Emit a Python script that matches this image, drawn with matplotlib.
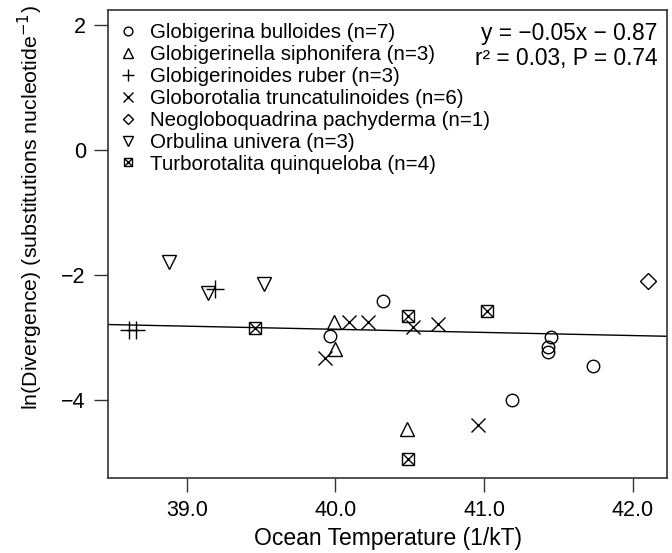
import matplotlib
matplotlib.use("Agg")
import matplotlib.pyplot as plt
from matplotlib.legend_handler import HandlerTuple
import numpy as np

plt.rcParams['font.family'] = ['Liberation Sans', 'DejaVu Sans']
plt.rcParams['axes.unicode_minus'] = True

# species data: (1/kT, ln divergence)
bulloides_x = [40.32, 39.96, 41.45, 41.43, 41.43, 41.73, 41.19]
bulloides_y = [-2.41, -2.98, -2.99, -3.15, -3.24, -3.45, -4.00]
siphonifera_x = [39.99, 40.00, 40.48]
siphonifera_y = [-2.75, -3.19, -4.47]
ruber_x = [38.61, 38.66, 39.19]
ruber_y = [-2.88, -2.88, -2.23]
truncat_x = [40.09, 40.22, 39.93, 40.52, 40.69, 40.96]
truncat_y = [-2.75, -2.75, -3.33, -2.84, -2.79, -4.40]
pachyderma_x = [42.10]
pachyderma_y = [-2.10]
univera_x = [38.88, 39.14, 39.52]
univera_y = [-1.79, -2.29, -2.15]
quinq_x = [39.46, 40.49, 41.02, 40.49]
quinq_y = [-2.85, -2.66, -2.57, -4.95]

slope, intercept = -0.05, -0.87
xticks = [39.0, 40.0, 41.0, 42.0]
yticks = [2, 0, -2, -4]

fig = plt.figure(figsize=(6.72, 5.53), dpi=100)
ax = fig.add_axes([0.1607, 0.1356, 0.8319, 0.8463])

ms = 9
kw = dict(linestyle='none', color='black', markerfacecolor='none', markeredgewidth=1.0)
h1, = ax.plot(bulloides_x, bulloides_y, marker='o', markersize=ms, **kw)
h2, = ax.plot(siphonifera_x, siphonifera_y, marker='^', markersize=ms + 1.5, **kw)
h3, = ax.plot(ruber_x, ruber_y, marker='+', markersize=ms + 4, **kw)
h4, = ax.plot(truncat_x, truncat_y, marker='x', markersize=ms + 1, **kw)
h5, = ax.plot(pachyderma_x, pachyderma_y, marker='D', markersize=ms - 1, **kw)
h6, = ax.plot(univera_x, univera_y, marker='v', markersize=ms + 1.5, **kw)
h7a, = ax.plot(quinq_x, quinq_y, marker='s', markersize=ms - 1, **kw)
h7b, = ax.plot(quinq_x, quinq_y, marker='x', markersize=ms - 1, **kw)

xl = np.array([38.47, 42.23])
ax.plot(xl, slope * xl + intercept, color='black', linewidth=1.0)

ax.set_xlim(38.47, 42.23)
ax.set_ylim(-5.25, 2.24)
ax.set_xticks(xticks)
ax.set_xticklabels(['%.1f' % t for t in xticks])
ax.set_yticks(yticks)
ax.tick_params(labelsize=15.5, length=10, width=1.0, color='#333333', pad=6)
for s in ax.spines.values():
    s.set_linewidth(1.2)
    s.set_color('#333333')

ax.set_xlabel('Ocean Temperature (1/kT)', fontsize=16.5, labelpad=4)
ax.set_ylabel('ln(Divergence) (substitutions nucleotide$^{-1}$)', fontsize=15.4)
ax.yaxis.set_label_coords(-0.113, 0.577)

labels = ['Globigerina bulloides (n=7)',
          'Globigerinella siphonifera (n=3)',
          'Globigerinoides ruber (n=3)',
          'Globorotalia truncatulinoides (n=6)',
          'Neogloboquadrina pachyderma (n=1)',
          'Orbulina univera (n=3)',
          'Turborotalita quinqueloba (n=4)']
leg = ax.legend([h1, h2, h3, h4, h5, h6, (h7a, h7b)], labels,
                handler_map={tuple: HandlerTuple(ndivide=1, pad=0)},
                loc='upper left', bbox_to_anchor=(0.0, 0.989), frameon=False,
                fontsize=14.8, labelspacing=0.14, handlelength=1.1,
                handletextpad=0.55, borderaxespad=0.0, markerscale=0.7)

ax.text(0.983, 0.974, 'y = \u22120.05x \u2212 0.87\nr\u00b2 = 0.03, P = 0.74',
        transform=ax.transAxes, ha='right', va='top', fontsize=16.4,
        linespacing=1.1)

fig.savefig('out.png', dpi=100)
